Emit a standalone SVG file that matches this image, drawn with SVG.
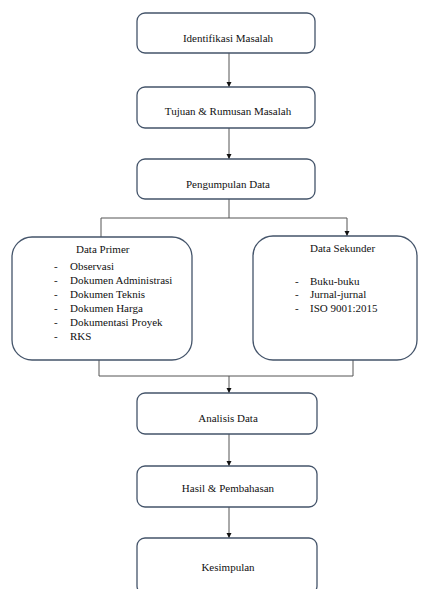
<svg xmlns="http://www.w3.org/2000/svg" width="421" height="589" viewBox="0 0 421 589">
<style>
.box{fill:#fff;stroke:#44546a;stroke-width:1.3}
.t{font-family:"Liberation Serif","Times New Roman",serif;font-size:11px;fill:#111}
.c{text-anchor:middle}
.ln{fill:none;stroke:#555;stroke-width:1}
</style>
<defs>
<marker id="ah" markerWidth="6" markerHeight="6" refX="5" refY="3" orient="auto" markerUnits="userSpaceOnUse">
<path d="M0,0.5 L5,3 L0,5.5 Z" fill="#111"/>
</marker>
</defs>
<rect width="421" height="589" fill="#fff"/>
<g id="connectors">
<path class="ln" d="M229,53 V87" marker-end="url(#ah)"/>
<path class="ln" d="M229,128 V159" marker-end="url(#ah)"/>
<path class="ln" d="M229,199 V218"/>
<path class="ln" d="M101,237 V218 H347 V236" marker-end="url(#ah)"/>
<path class="ln" d="M99,360 V376 H353 V360"/>
<path class="ln" d="M229,376 V393" marker-end="url(#ah)"/>
<path class="ln" d="M229,434 V466" marker-end="url(#ah)"/>
<path class="ln" d="M229,507 V538" marker-end="url(#ah)"/>
</g>
<g id="n1"><rect class="box" x="137" y="13" width="178" height="40" rx="8"/><text class="t c" x="228" y="42">Identifikasi Masalah</text></g>
<g id="n2"><rect class="box" x="137" y="87" width="178" height="41" rx="8"/><text class="t c" x="228" y="115">Tujuan &amp; Rumusan Masalah</text></g>
<g id="n3"><rect class="box" x="137" y="159" width="178" height="40" rx="8"/><text class="t c" x="228" y="188">Pengumpulan Data</text></g>
<g id="n4"><rect class="box" x="12" y="237" width="180" height="123" rx="20"/>
<text class="t" x="76" y="253">Data Primer</text>
<text class="t" x="54" y="270">-</text><text class="t" x="70" y="270">Observasi</text>
<text class="t" x="54" y="284">-</text><text class="t" x="70" y="284">Dokumen Administrasi</text>
<text class="t" x="54" y="298">-</text><text class="t" x="70" y="298">Dokumen Teknis</text>
<text class="t" x="54" y="312">-</text><text class="t" x="70" y="312">Dokumen Harga</text>
<text class="t" x="54" y="326">-</text><text class="t" x="70" y="326">Dokumentasi Proyek</text>
<text class="t" x="54" y="340">-</text><text class="t" x="70" y="340">RKS</text>
</g>
<g id="n5"><rect class="box" x="253" y="236" width="164" height="124" rx="20"/>
<text class="t" x="310" y="252">Data Sekunder</text>
<text class="t" x="295" y="285">-</text><text class="t" x="310" y="285">Buku-buku</text>
<text class="t" x="295" y="298">-</text><text class="t" x="310" y="298">Jurnal-jurnal</text>
<text class="t" x="295" y="312">-</text><text class="t" x="310" y="312">ISO 9001:2015</text>
</g>
<g id="n6"><rect class="box" x="137" y="393" width="180" height="41" rx="8"/><text class="t c" x="228" y="422">Analisis Data</text></g>
<g id="n7"><rect class="box" x="137" y="466" width="180" height="41" rx="8"/><text class="t c" x="228" y="492">Hasil &amp; Pembahasan</text></g>
<g id="n8"><rect class="box" x="137" y="538" width="180" height="56" rx="8"/><text class="t c" x="228" y="571">Kesimpulan</text></g>
</svg>
